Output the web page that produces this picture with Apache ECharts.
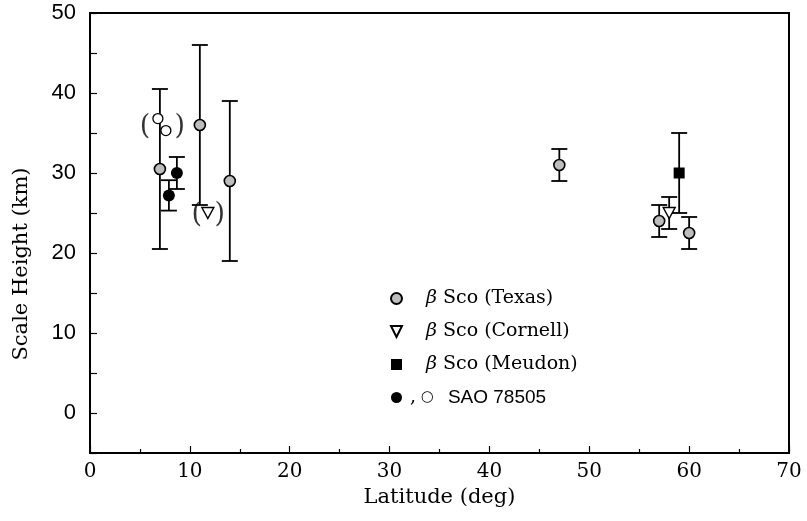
<!DOCTYPE html>
<html><head><meta charset="utf-8">
<script src="https://cdn.jsdelivr.net/npm/echarts@6/dist/echarts.min.js"></script>
<style>html,body{margin:0;padding:0;background:#fff}#c{width:807px;height:521px}</style>
</head><body><div id="c"></div>
<script>
// ---- data ----
const texasLat = [7, 11, 14, 47, 57, 60];
const texasH   = [30.5, 36, 29, 31, 24, 22.5];
const texasErr = [10, 10, 10, 2, 2, 2];

const cornellLat = [11.8, 58];
const cornellH   = [25, 25];
const cornellErr = [0, 2];

const meudonLat = [59];
const meudonH   = [30];
const meudonErr = [5];

const saoFilledLat = [8.7, 7.9];
const saoFilledH   = [30, 27.2];
const saoFilledErr = [2, 1.9];

const saoOpenLat = [6.8, 7.6];
const saoOpenH   = [36.8, 35.3];

// parentheses marking uncertain points: [lat, height, glyph]
const parenLat   = [5.5, 9.0, 10.7, 13.0];
const parenH     = [35.8, 35.8, 24.7, 24.7];
const parenGlyph = ['(', ')', '(', ')'];

const xTicks = [0, 10, 20, 30, 40, 50, 60, 70];
const yTicks = [0, 10, 20, 30, 40, 50];

// ---- build ----
const zip2 = (a, b) => a.map((v, i) => [v, b[i]]);
const errData = [];
[[texasLat, texasH, texasErr], [cornellLat, cornellH, cornellErr],
 [meudonLat, meudonH, meudonErr], [saoFilledLat, saoFilledH, saoFilledErr]]
 .forEach(([xs, ys, es]) => xs.forEach((x, i) => { if (es[i] > 0) errData.push([x, ys[i], ys[i] - es[i], ys[i] + es[i]]); }));

const serif = '"DejaVu Serif", serif';
const sans = '"Liberation Sans", Arial, sans-serif';
const triDown = 'path://M0,0 L10,0 L5,10 Z';

const chart = echarts.init(document.getElementById('c'));
chart.setOption({
  animation: false,
  backgroundColor: '#fff',
  grid: { left: 90, right: 18, top: 13, bottom: 68, show: true, borderColor: '#000', borderWidth: 2 },
  xAxis: {
    type: 'value', min: 0, max: 70, interval: 10,
    axisLine: { onZero: false, lineStyle: { color: '#000', width: 2 } },
    axisTick: { inside: true, length: 7, lineStyle: { color: '#000', width: 1.2 } },
    minorTick: { show: true, splitNumber: 2, length: 4, lineStyle: { color: '#000', width: 1.2 } },
    splitLine: { show: false },
    axisLabel: { color: '#000', fontFamily: serif, fontSize: 20, margin: 9,
      formatter: v => xTicks.includes(v) ? String(v) : '' },
    name: 'Latitude (deg)', nameLocation: 'middle', nameGap: 34,
    nameTextStyle: { color: '#000', fontFamily: serif, fontSize: 21 }
  },
  yAxis: {
    type: 'value', min: -5, max: 50, interval: 5,
    axisLine: { onZero: false, lineStyle: { color: '#000', width: 2 } },
    axisTick: { inside: true, length: 7, lineStyle: { color: '#000', width: 1.2 } },
    splitLine: { show: false },
    axisLabel: { color: '#000', fontFamily: sans, fontSize: 22, margin: 14,
      formatter: v => yTicks.includes(v) ? String(v) : '' },
    name: 'Scale Height (km)', nameLocation: 'middle', nameGap: 58,
    nameTextStyle: { color: '#000', fontFamily: serif, fontSize: 21, padding: [0, 62, 0, 0] }
  },
  legend: {
    orient: 'vertical', left: 385, top: 284, itemGap: 14,
    itemWidth: 11, itemHeight: 11,
    textStyle: { color: '#000', fontFamily: serif, fontSize: 19, padding: [0, 0, 0, 19],
      rich: {
        b: { fontFamily: serif, fontStyle: 'italic', fontSize: 19, color: '#000' },
        t: { fontFamily: serif, fontSize: 19, color: '#000' },
        c: { fontFamily: serif, fontSize: 19, color: '#000' },
        o: { fontFamily: '"DejaVu Sans", sans-serif', fontSize: 15, color: '#000' },
        s: { fontFamily: sans, fontSize: 19, color: '#000', padding: [0, 0, 0, 14] }
      } },
    data: [
      { name: 'β Sco (Texas)' },
      { name: 'β Sco (Cornell)', icon: triDown },
      { name: 'β Sco (Meudon)' },
      { name: 'SAO 78505', textStyle: { padding: [0, 0, 0, 3] } }
    ],
    formatter: n => {
      if (n === 'SAO 78505') return '{c|,}{o| ○}{s|SAO 78505}';
      return '{b|β} {t|' + n.slice(2) + '}';
    }
  },
  series: [
    {
      type: 'custom', name: 'err', z: 1, silent: true,
      data: errData,
      renderItem: (params, api) => {
        const x = api.value(0);
        const lo = api.coord([x, api.value(2)]);
        const hi = api.coord([x, api.value(3)]);
        const w = 8;
        const st = { stroke: '#000', lineWidth: 1.8 };
        return { type: 'group', children: [
          { type: 'line', shape: { x1: lo[0], y1: lo[1], x2: hi[0], y2: hi[1] }, style: st },
          { type: 'line', shape: { x1: lo[0] - w, y1: lo[1], x2: lo[0] + w, y2: lo[1] }, style: st },
          { type: 'line', shape: { x1: hi[0] - w, y1: hi[1], x2: hi[0] + w, y2: hi[1] }, style: st }
        ] };
      }
    },
    { type: 'scatter', name: 'β Sco (Texas)', z: 5, symbol: 'circle', symbolSize: 11,
      itemStyle: { color: '#bdbdbd', borderColor: '#000', borderWidth: 1.6, opacity: 1 },
      data: zip2(texasLat, texasH) },
    { type: 'scatter', name: 'β Sco (Cornell)', z: 5, symbol: triDown, symbolSize: [12, 11],
      itemStyle: { color: '#fff', borderColor: '#000', borderWidth: 1.4, opacity: 1 },
      data: zip2(cornellLat, cornellH) },
    { type: 'scatter', name: 'β Sco (Meudon)', z: 5, symbol: 'rect', symbolSize: 11,
      itemStyle: { color: '#000', opacity: 1 },
      data: zip2(meudonLat, meudonH) },
    { type: 'scatter', name: 'SAO 78505', z: 5, symbol: 'circle', symbolSize: 12,
      itemStyle: { color: '#000', opacity: 1 },
      data: zip2(saoFilledLat, saoFilledH) },
    { type: 'scatter', name: 'SAO open', z: 5, symbol: 'circle', symbolSize: 10,
      itemStyle: { color: '#fff', borderColor: '#000', borderWidth: 1.3, opacity: 1 },
      data: zip2(saoOpenLat, saoOpenH) },
    { type: 'scatter', name: 'paren', z: 4, symbol: 'circle', symbolSize: 1, silent: true,
      itemStyle: { color: 'rgba(0,0,0,0)' },
      data: parenLat.map((x, i) => ({ value: [x, parenH[i]], label: { formatter: parenGlyph[i] } })),
      label: { show: true, position: 'inside', color: '#000', fontFamily: serif, fontSize: 27 } }
  ]
});
</script></body></html>
